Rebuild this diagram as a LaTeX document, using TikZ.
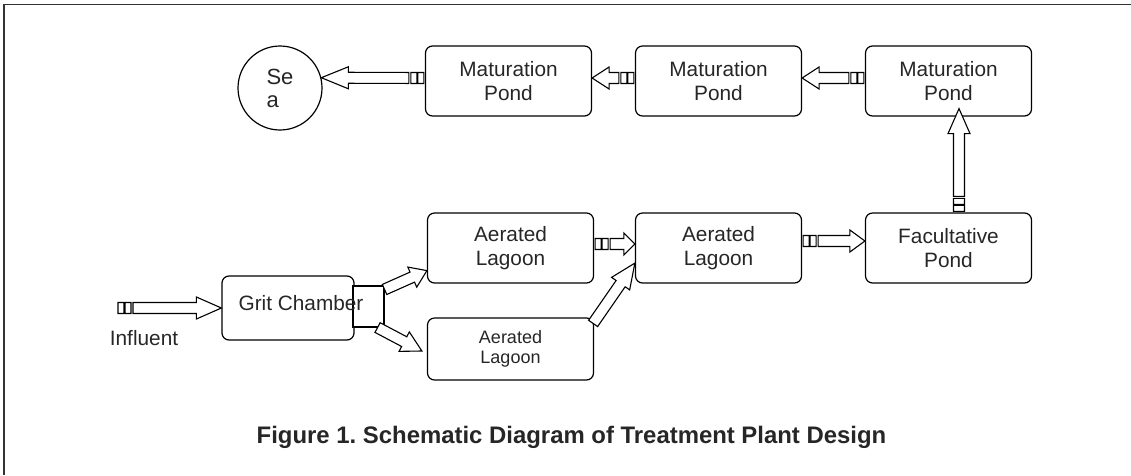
\documentclass[tikz,border=0pt]{standalone}
\usepackage{fontspec}
\setmainfont{Liberation Sans}
\usetikzlibrary{calc}
\frenchspacing

\begin{document}
\begin{tikzpicture}[
    x=1pt, y=-1pt,
    pond/.style={draw=black, rounded corners=7pt, line width=1.2pt,
        minimum width=166pt, minimum height=70pt, inner sep=2pt,
        align=center, text=black!85, font=\fontsize{20.8}{24}\selectfont},
    flow/.style={draw=black, fill=white, line width=1.1pt, to path={
        let \p1=(\tikztostart), \p2=(\tikztotarget),
            \n1={atan2(\y2-\y1,\x2-\x1)}, \n2={veclen(\x2-\x1,\y2-\y1)} in
        [shift={(\p1)}, rotate=\n1]
        (1pt,-5.5pt) -- (7pt,-5.5pt) -- (7pt,5.5pt) -- (1pt,5.5pt) -- cycle
        (8pt,-5.5pt) -- (14pt,-5.5pt) -- (14pt,5.5pt) -- (8pt,5.5pt) -- cycle
        (16pt,-5.5pt) -- (\n2-#1,-5.5pt) -- (\n2-#1,-11pt) -- (\n2,0pt)
            -- (\n2-#1,11pt) -- (\n2-#1,5.5pt) -- (16pt,5.5pt) -- cycle}},
    flow/.default=25pt,
    jet/.style={draw=black, fill=white, line width=1.1pt, to path={
        let \p1=(\tikztostart), \p2=(\tikztotarget),
            \n1={atan2(\y2-\y1,\x2-\x1)}, \n2={veclen(\x2-\x1,\y2-\y1)} in
        [shift={(\p1)}, rotate=\n1]
        (0pt,-5.5pt) -- (\n2-#1,-5.5pt) -- (\n2-#1,-11pt) -- (\n2,0pt)
            -- (\n2-#1,11pt) -- (\n2-#1,5.5pt) -- (0pt,5.5pt) -- cycle}},
    jet/.default=20pt,
    label/.style={text=black!85, inner sep=0pt}
]
    \useasboundingbox (0,0) rectangle (1131,475);
    \draw[black!80, line width=1.4pt] (1131,4.5) -- (4,4.5) -- (4,475);

    \node[draw=black, circle, line width=1.2pt, minimum size=84pt, inner sep=0pt,
        align=left, text=black!85, font=\fontsize{22}{23}\selectfont] (sea) at (280,88) {Se\\a};
    \node[pond] (mat1) at (508.5,81) {Maturation\\Pond};
    \node[pond] (mat2) at (718.5,81) {Maturation\\Pond};
    \node[pond] (mat3) at (948.5,81) {Maturation\\Pond};
    \node[pond] (aer1) at (510.5,248) {Aerated\\Lagoon};
    \node[pond] (aer2) at (718.5,248) {Aerated\\Lagoon};
    \node[pond] (fac) at (948.5,248) {Facultative\\Pond};
    \node[pond, minimum height=62pt, font=\fontsize{18}{20}\selectfont] (aer3) at (510.5,349) {Aerated\\Lagoon};
    \node[pond, minimum width=132pt, minimum height=64pt] (grit) at (288,308) {};
    \node[draw=black, fill=white, line width=1.1pt, minimum width=31pt,
        minimum height=41pt, inner sep=0pt] (gritbox) at (368.5,306.5) {};
    \node[label, anchor=base, font=\fontsize{20.8}{24}\selectfont] (gritname) at (301,310) {Grit Chamber};
    \node[label, anchor=base, font=\fontsize{20.8}{24}\selectfont] (influent) at (144,345) {Influent};
    \coordinate (inlet) at (117,308);

    \draw[flow] (inlet) to (grit.west);
    \draw[jet=16pt] ([yshift=-4pt]gritbox.north east) to ([yshift=13pt]aer1.south west);
    \draw[jet=20pt] ([xshift=-7pt]gritbox.south east) to ([xshift=-5pt,yshift=-2pt]aer3.west);
    \draw[jet=25pt] ([xshift=-1pt,yshift=-6pt]aer3.north east) to ([yshift=-15pt]aer2.west);
    \draw[flow=11pt] ([yshift=4pt]aer1.east) to ([yshift=4pt]aer2.west);
    \draw[flow=15pt] ([yshift=7pt]aer2.east) to ([yshift=7pt]fac.west);
    \draw[flow] ([xshift=10.5pt]fac.north) to ([xshift=10.5pt,yshift=8pt]mat3.south);
    \draw[flow=17pt] ([yshift=3pt]mat3.west) to ([yshift=3pt]mat2.east);
    \draw[flow=17pt] ([yshift=3pt]mat2.west) to ([yshift=3pt]mat1.east);
    \draw[flow=27pt] ([yshift=3pt]mat1.west) to (sea.14);

    \node[label, anchor=base, font=\bfseries\fontsize{23.9}{28}\selectfont] (caption) at (571.5,443)
        {Figure 1. Schematic Diagram of Treatment Plant Design};
\end{tikzpicture}
\end{document}
